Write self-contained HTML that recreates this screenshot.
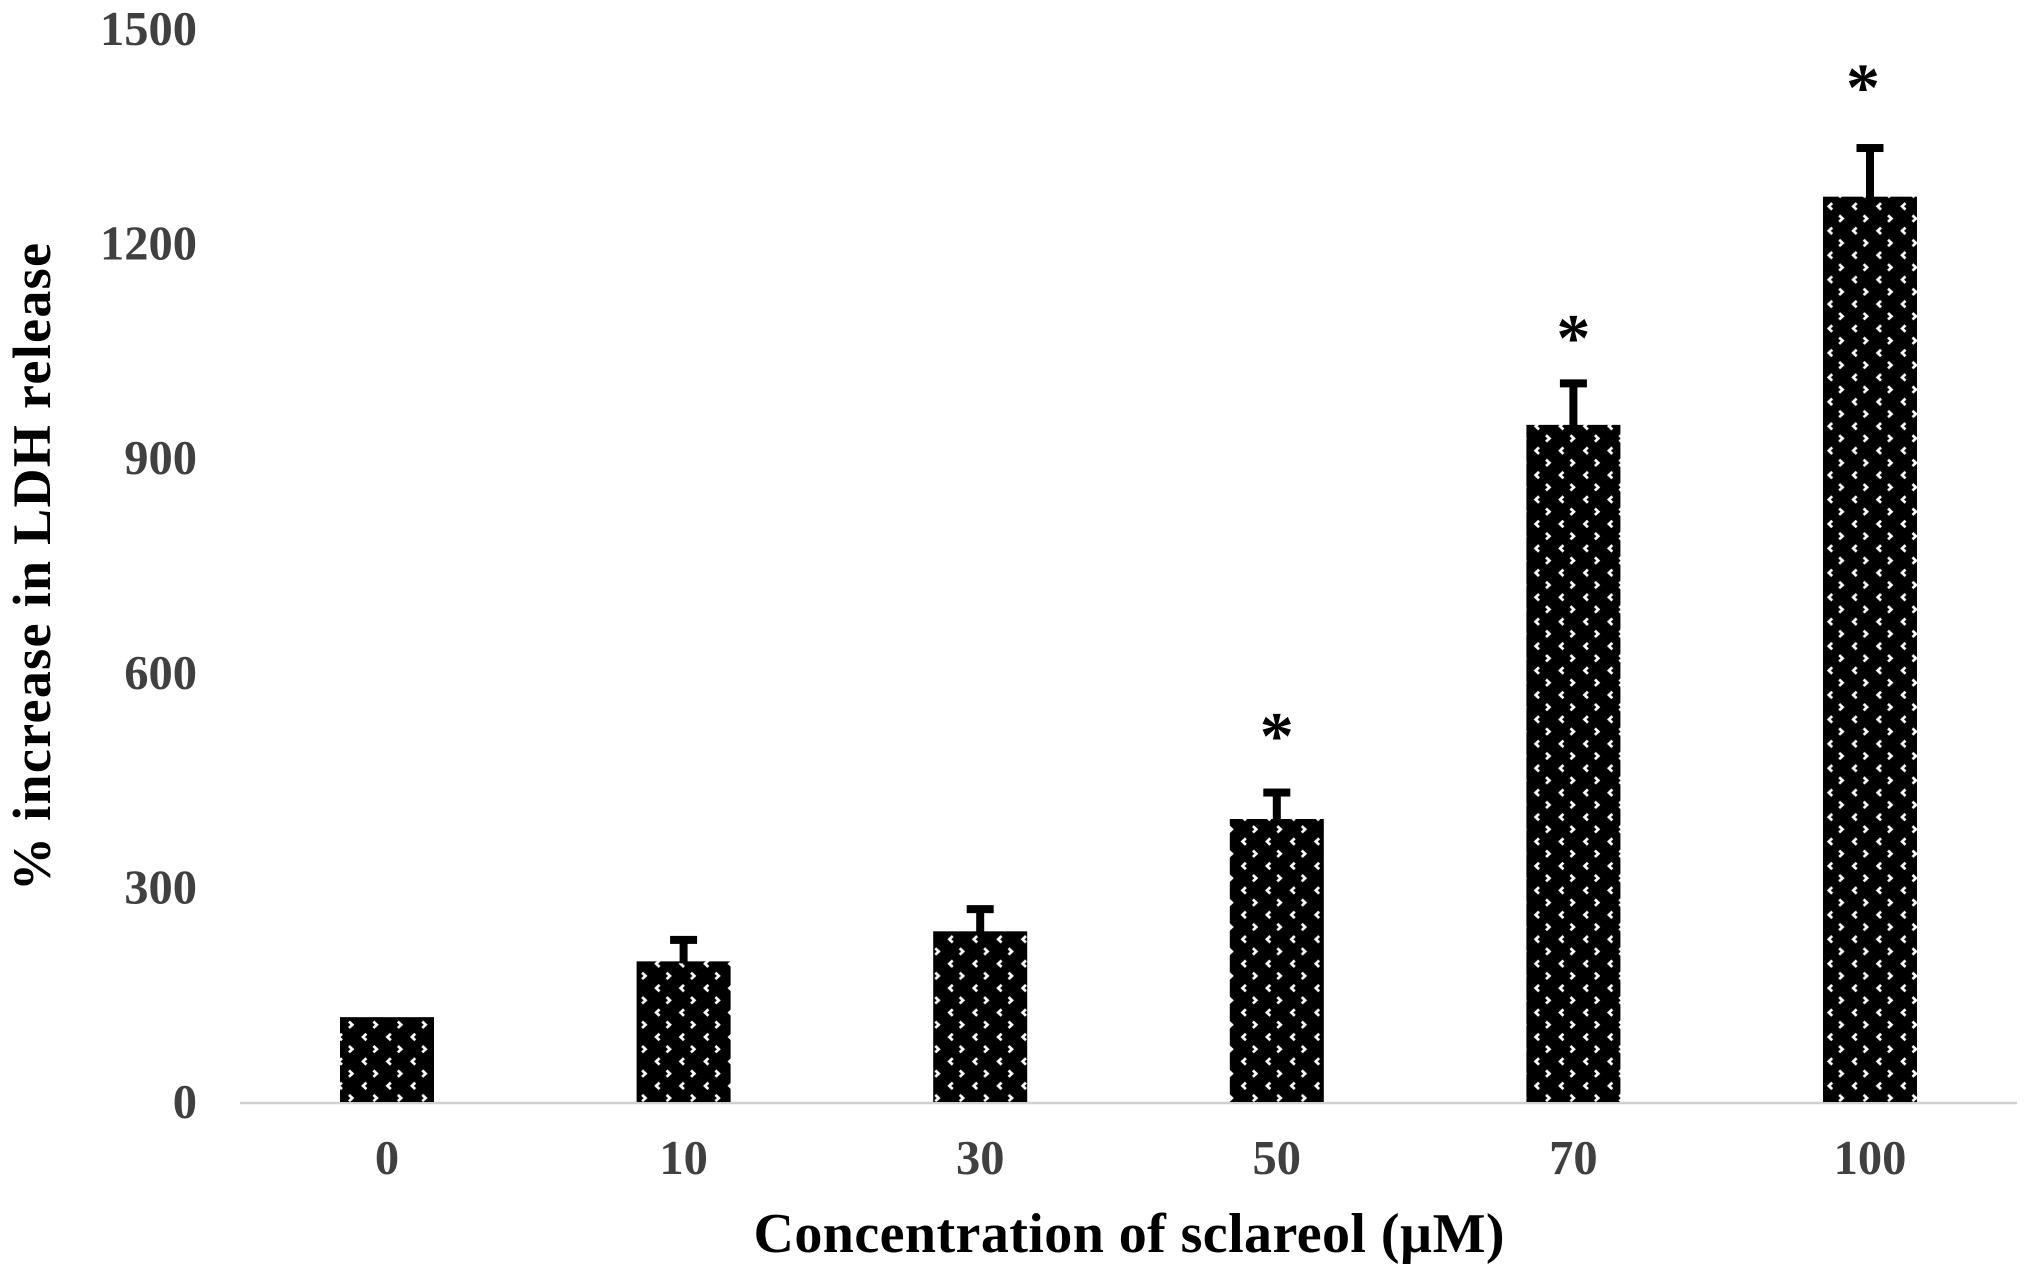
<!DOCTYPE html>
<html lang="en">
<head>
<meta charset="utf-8">
<title>LDH release by sclareol concentration</title>
<style>
html,body{margin:0;padding:0;background:#fff;}
svg{display:block;}
text{font-family:"Liberation Serif",serif;font-weight:bold;}
</style>
</head>
<body>
<svg id="chart" xmlns="http://www.w3.org/2000/svg" width="2031" height="1277" viewBox="0 0 2031 1277">
  <defs>
    <pattern id="dots" x="363" y="1037" width="24.43" height="24.43" patternUnits="userSpaceOnUse">
      <rect width="24.43" height="24.43" fill="#000"/>
      <g fill="none" stroke="#fff" stroke-width="2.7">
        <path d="M3.4 -3.2 L0 0 L3.4 3.2"/>
        <path d="M27.8 -3.2 L24.43 0 L27.8 3.2"/>
        <path d="M3.4 21.2 L0 24.43 L3.4 27.6"/>
        <path d="M27.8 21.2 L24.43 24.43 L27.8 27.6"/>
        <path d="M10.4 9 L13.8 12.2 L10.4 15.4"/>
      </g>
    </pattern>
  </defs>
  <rect width="2031" height="1277" fill="#fff"/>
  <g id="y-axis"></g>
  <g id="x-axis"></g>
  <g id="bars"></g>
  <text x="1129" y="1252" font-size="56" fill="#000" text-anchor="middle" textLength="751" lengthAdjust="spacing">Concentration of sclareol (µM)</text>
  <text transform="translate(50 567) rotate(-90)" font-size="54" fill="#000" text-anchor="middle" textLength="648" lengthAdjust="spacing">% increase in LDH release</text>
</svg>
<script>
const categories = ['0', '10', '30', '50', '70', '100'];
const values = [120, 198, 240, 397, 948, 1267];
const errors = [0, 30, 31, 37, 58, 68];
const starLevels = [null, null, null, 526, 1083, 1433];
const yTicks = [0, 300, 600, 900, 1200, 1500];

const NS = 'http://www.w3.org/2000/svg';
const yScale = function (v) { return 1103 - v * (1073 / 1500); };
const xScale = function (i) { return 387 + i * 296.6; };
const barWidth = 94;
const capWidth = 27;
const stroke = 8;

function make(tag, attrs, parent, txt) {
  const el = document.createElementNS(NS, tag);
  for (const k in attrs) el.setAttribute(k, attrs[k]);
  if (txt !== undefined) el.textContent = txt;
  parent.appendChild(el);
  return el;
}

const yGroup = document.getElementById('y-axis');
const xGroup = document.getElementById('x-axis');
const barGroup = document.getElementById('bars');

const axisLine = make('line', { x1: 240, x2: 2017, y1: yScale(0), y2: yScale(0), stroke: '#d0d0d0', 'stroke-width': 2.5 }, xGroup);



yTicks.forEach(function (t) {
  const el = make('text', { x: 197, y: yScale(t) + 15, 'font-size': 48.5, fill: '#404040', 'text-anchor': 'end' }, yGroup, String(t));
  
  
});

categories.forEach(function (c, i) {
  const cx = xScale(i);

  const label = make('text', { x: cx, y: 1174, 'font-size': 48.5, fill: '#404040', 'text-anchor': 'middle' }, xGroup, c);
  
  

  const top = yScale(values[i]);
  const bar = make('rect', { x: cx - barWidth / 2, y: top, width: barWidth, height: yScale(0) - top - 1, fill: 'url(#dots)' }, barGroup);
  
  

  if (errors[i] > 0) {
    const capY = yScale(values[i] + errors[i]);
    const stem = make('rect', { x: cx - stroke / 2, y: capY, width: stroke, height: top - capY + 2, fill: '#000' }, barGroup);
    
    
    const cap = make('rect', { x: cx - capWidth / 2, y: capY - stroke / 2, width: capWidth, height: stroke, fill: '#000' }, barGroup);
    
    
  }

  if (starLevels[i] !== null) {
    const dx = i === 5 ? -7 : 0;
    const star = make('text', { x: cx + dx, y: yScale(starLevels[i]) + 32, 'font-size': 68, fill: '#000', 'text-anchor': 'middle' }, barGroup, '*');
    
    
  }
});
</script>
</body>
</html>
